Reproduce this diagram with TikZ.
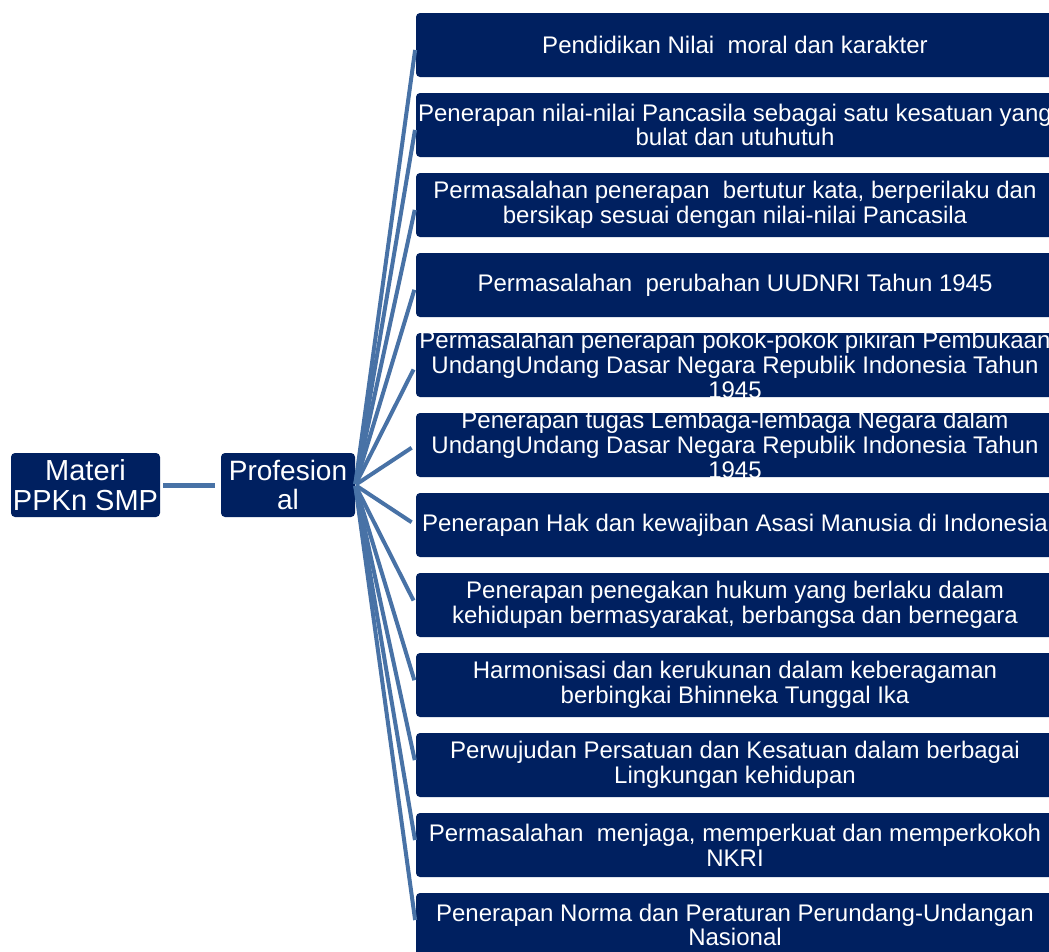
\documentclass[tikz,border=0pt]{standalone}
\usepackage{fontspec}
\setmainfont{Liberation Sans}
\definecolor{navy}{RGB}{0,32,96}
\definecolor{linkblue}{RGB}{72,114,166}
\begin{document}
\begin{tikzpicture}[x=1pt,y=-1pt,
  box/.style={fill=navy,draw=none,rounded corners=4pt,inner sep=0pt},
  rbox/.style={box,minimum width=638pt,minimum height=64pt},
  rtext/.style={text=white,align=center,inner sep=0pt,font=\fontsize{24}{24.8}\selectfont},
  ltext/.style={text=white,align=center,inner sep=0pt,font=\fontsize{29}{29.5}\selectfont},
  link/.style={draw=linkblue,line width=4pt},
]
\useasboundingbox (0,0) rectangle (1049,951);
% left nodes
\node[box,minimum width=149pt,minimum height=64pt] (m) at (85.5,485) {};
\node[ltext] at (m) {Materi\\PPKn SMP};
\node[box,minimum width=134pt,minimum height=64pt] (p) at (288,485) {};
\node[ltext,font=\fontsize{28}{29.5}\selectfont] at (p) {Profesion\\al};
\draw[link,line width=5pt,shorten <=3pt,shorten >=6pt] (m.east) -- (p.west);
% right boxes
\foreach \i/\t in {
 1/{Pendidikan Nilai \ moral dan karakter},
 2/{Penerapan nilai-nilai Pancasila sebagai satu kesatuan yang\\bulat dan utuhutuh},
 3/{Permasalahan penerapan \ bertutur kata, berperilaku dan\\bersikap sesuai dengan nilai-nilai Pancasila},
 4/{Permasalahan \ perubahan UUDNRI Tahun 1945},
 5/{Permasalahan penerapan pokok-pokok pikiran Pembukaan\\UndangUndang Dasar Negara Republik Indonesia Tahun\\1945},
 6/{Penerapan tugas Lembaga-lembaga Negara dalam\\UndangUndang Dasar Negara Republik Indonesia Tahun\\1945},
 7/{Penerapan Hak dan kewajiban Asasi Manusia di Indonesia},
 8/{Penerapan penegakan hukum yang berlaku dalam\\kehidupan bermasyarakat, berbangsa dan bernegara},
 9/{Harmonisasi dan kerukunan dalam keberagaman\\berbingkai Bhinneka Tunggal Ika},
 10/{Perwujudan Persatuan dan Kesatuan dalam berbagai\\Lingkungan kehidupan},
 11/{Permasalahan \ menjaga, memperkuat dan memperkokoh\\NKRI},
 12/{Penerapan Norma dan Peraturan Perundang-Undangan\\Nasional}} {
  \node[rbox] (b\i) at (735,{45+80*(\i-1)}) {};
  \node[rtext] at (b\i) {\t};
  \draw[link,shorten <=1pt,shorten >=5pt] (p.east) -- (b\i.west);
}
\end{tikzpicture}
\end{document}
